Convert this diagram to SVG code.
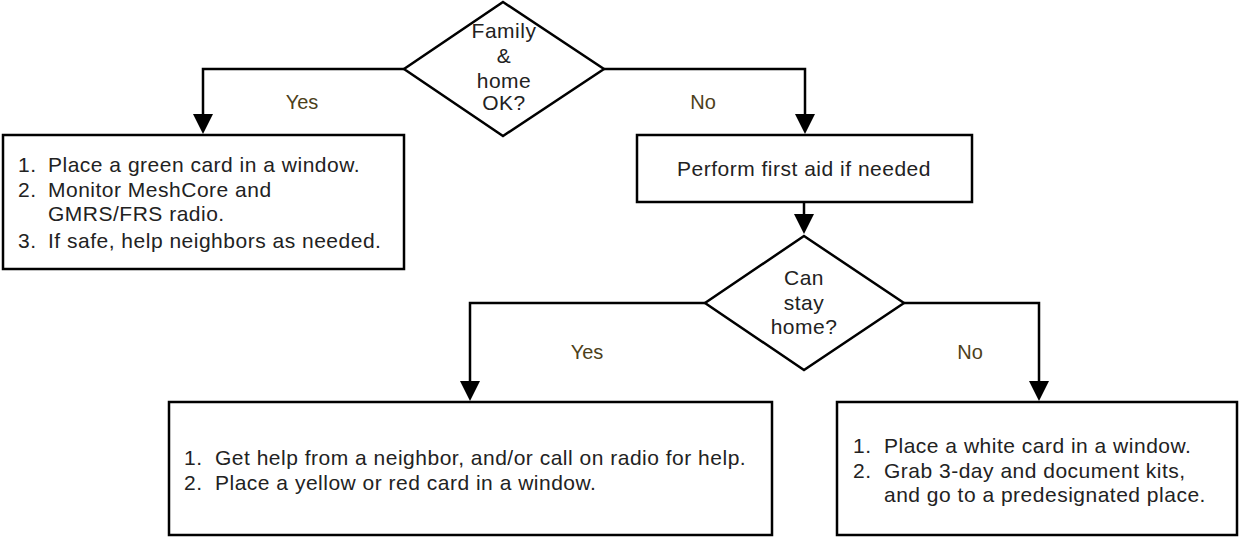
<svg xmlns="http://www.w3.org/2000/svg" width="1240" height="537" viewBox="0 0 1240 537">
<defs>
<style>
.s{fill:#fff;stroke:#000;stroke-width:2.5}
.t{font-family:"Liberation Sans",Arial,sans-serif;font-size:21px;letter-spacing:0.5px;fill:#222}
.c{text-anchor:middle}
.l{font-family:"Liberation Sans",Arial,sans-serif;font-size:20px;fill:#4d3f1a;text-anchor:middle}
.e{fill:none;stroke:#000;stroke-width:2.5}
</style>
</defs>
<rect width="1240" height="537" fill="#fff"/>
<g id="connectors">
<path class="e" d="M404,69H203V116"/>
<path class="e" d="M604,69H805V116"/>
<path class="e" d="M804,202V216"/>
<path class="e" d="M705,303H470V383"/>
<path class="e" d="M904,303H1039V383"/>
<path d="M193,114L203,134L213,114z M795,114L805,134L815,114z M794,214L804,234L814,214z M460,381L470,401L480,381z M1029,381L1039,401L1049,381z" fill="#000"/>
<text class="l" x="302" y="109">Yes</text>
<text class="l" x="703" y="109">No</text>
<text class="l" x="587" y="359">Yes</text>
<text class="l" x="970" y="359">No</text>
</g>
<g id="d1"><path class="s" d="M503,2L604,69L503,136L404,69z"/>
<text class="t c" x="504" y="38">Family</text><text class="t c" x="504" y="63">&amp;</text><text class="t c" x="504" y="88">home</text><text class="t c" x="504" y="110">OK?</text></g>
<g id="b1"><rect class="s" x="3" y="135" width="401" height="134"/>
<text class="t" x="18" y="172">1.</text><text class="t" x="48" y="172">Place a green card in a window.</text>
<text class="t" x="18" y="197">2.</text><text class="t" x="48" y="197">Monitor MeshCore and</text>
<text class="t" x="48" y="221">GMRS/FRS radio.</text>
<text class="t" x="18" y="248">3.</text><text class="t" x="48" y="248">If safe, help neighbors as needed.</text></g>
<g id="b2"><rect class="s" x="637" y="135" width="335" height="67"/>
<text class="t c" x="804" y="176">Perform first aid if needed</text></g>
<g id="d2"><path class="s" d="M804,236L904,303L804,370L705,303z"/>
<text class="t c" x="804" y="285">Can</text><text class="t c" x="804" y="310">stay</text><text class="t c" x="804" y="334">home?</text></g>
<g id="b3"><rect class="s" x="169" y="402" width="603" height="133"/>
<text class="t" x="184" y="465">1.</text><text class="t" x="215" y="465">Get help from a neighbor, and/or call on radio for help.</text>
<text class="t" x="184" y="490">2.</text><text class="t" x="215" y="490">Place a yellow or red card in a window.</text></g>
<g id="b4"><rect class="s" x="837" y="402" width="400" height="133"/>
<text class="t" x="853" y="453">1.</text><text class="t" x="884" y="453">Place a white card in a window.</text>
<text class="t" x="853" y="478">2.</text><text class="t" x="884" y="478">Grab 3-day and document kits,</text>
<text class="t" x="884" y="502">and go to a predesignated place.</text></g>
</svg>
